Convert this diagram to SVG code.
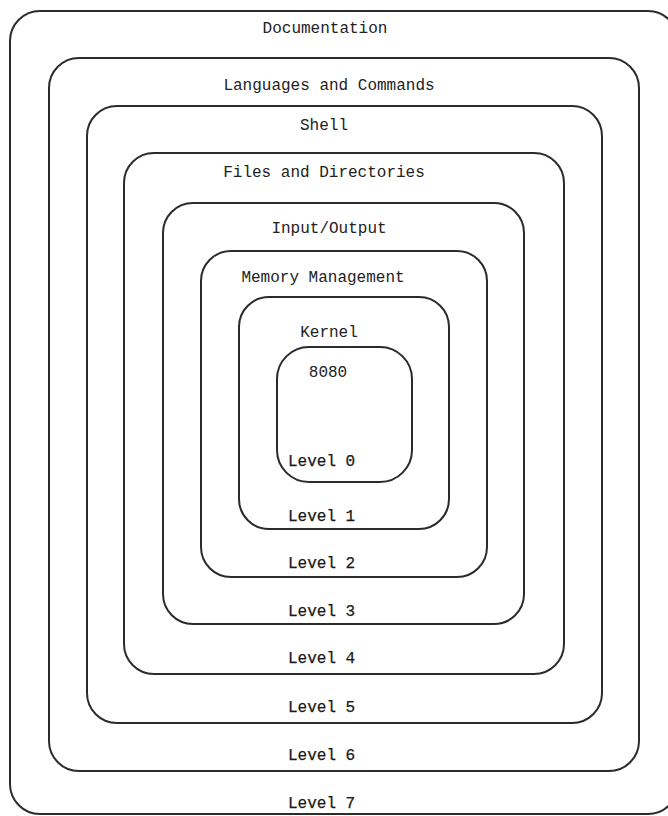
<svg xmlns="http://www.w3.org/2000/svg" width="668" height="816" viewBox="0 0 668 816">
  <style>
    .ring { fill: none; stroke: #2b2b2b; stroke-width: 2; }
    .name { font-family: "Liberation Mono", "Courier New", monospace; font-size: 16px; fill: #222; text-anchor: middle; }
    .lvl { font-family: "Liberation Mono", "Courier New", monospace; font-size: 16px; fill: #1a1a1a; stroke: #1a1a1a; stroke-width: 0.25; }
  </style>
  <rect width="668" height="816" fill="#ffffff"/>

  <!-- Nested layers, outermost first -->
  <g id="level7">
    <rect class="ring" x="10" y="11" width="668" height="803" rx="30" ry="30"/>
    <text class="name" x="325" y="33">Documentation</text>
    <text class="lvl" x="288" y="808">Level 7</text>
  </g>
  <g id="level6">
    <rect class="ring" x="49" y="58" width="590" height="713" rx="30" ry="30"/>
    <text class="name" x="329" y="90">Languages and Commands</text>
    <text class="lvl" x="288" y="760">Level 6</text>
  </g>
  <g id="level5">
    <rect class="ring" x="87" y="106" width="515" height="617" rx="30" ry="30"/>
    <text class="name" x="324" y="130">Shell</text>
    <text class="lvl" x="288" y="712">Level 5</text>
  </g>
  <g id="level4">
    <rect class="ring" x="124" y="153" width="440" height="521" rx="30" ry="30"/>
    <text class="name" x="324" y="177">Files and Directories</text>
    <text class="lvl" x="288" y="663">Level 4</text>
  </g>
  <g id="level3">
    <rect class="ring" x="163" y="203" width="361" height="421" rx="30" ry="30"/>
    <text class="name" x="329" y="233">Input/Output</text>
    <text class="lvl" x="288" y="616">Level 3</text>
  </g>
  <g id="level2">
    <rect class="ring" x="201" y="251" width="286" height="326" rx="30" ry="30"/>
    <text class="name" x="323" y="282">Memory Management</text>
    <text class="lvl" x="288" y="568">Level 2</text>
  </g>
  <g id="level1">
    <rect class="ring" x="239" y="297" width="210" height="232" rx="30" ry="30"/>
    <text class="name" x="329" y="337">Kernel</text>
    <text class="lvl" x="288" y="521">Level 1</text>
  </g>
  <g id="level0">
    <rect class="ring" x="277" y="347" width="135" height="135" rx="32" ry="32"/>
    <text class="name" x="328" y="377">8080</text>
    <text class="lvl" x="288" y="466">Level 0</text>
  </g>

  <!-- no connectors in this figure -->
  <g id="connectors"/>
</svg>
